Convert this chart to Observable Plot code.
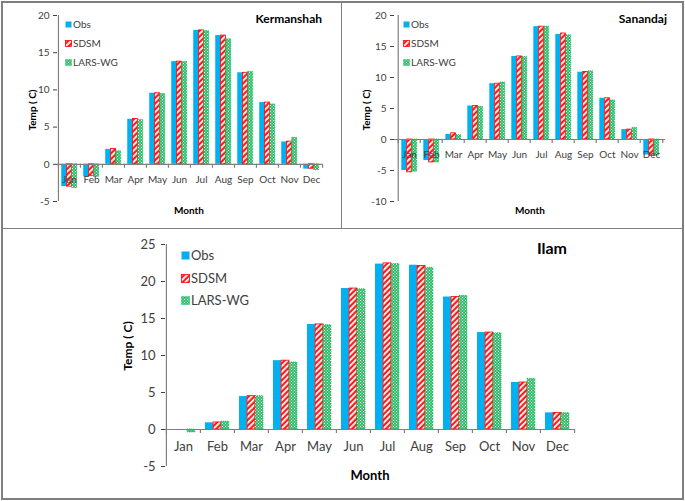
<!DOCTYPE html>
<html><head><meta charset="utf-8">
<script src="https://cdn.jsdelivr.net/npm/d3@7"></script>
<script src="https://cdn.jsdelivr.net/npm/@observablehq/plot@0.6"></script>
<style>
html,body{margin:0;padding:0;background:#fff;}
#page{position:relative;width:685px;height:501px;overflow:hidden;font-family:Lato,"Open Sans",sans-serif;}
.panel{position:absolute;}
.line{position:absolute;background:#7f7f7f;}
.t{position:absolute;white-space:nowrap;color:#000;line-height:1;}
.sw{position:absolute;}
</style></head>
<body>
<svg width="0" height="0" style="position:absolute">
  <defs>
    <pattern id="hatch" width="4" height="4" patternUnits="userSpaceOnUse" patternTransform="rotate(45)">
      <rect width="4" height="4" fill="#ff1a1a"/>
      <rect width="1.8" height="4" fill="#ffffff"/>
    </pattern>
    <pattern id="dots" width="3" height="3" patternUnits="userSpaceOnUse">
      <rect width="3" height="3" fill="#2ebd6b"/>
      <rect x="0" y="0" width="1" height="1" fill="#ffffff"/>
      <rect x="1.5" y="1.5" width="1" height="1" fill="#d9f5e3"/>
    </pattern>
  </defs>
</svg>
<div id="page"></div>
<script>
const months = ["Jan","Feb","Mar","Apr","May","Jun","Jul","Aug","Sep","Oct","Nov","Dec"];
const seriesNames = ["Obs","SDSM","LARS-WG"];

const kerObs  = [-3.0, -1.7, 2.0, 6.05, 9.55, 13.8, 18.0, 17.3, 12.3, 8.3, 3.0, -0.65];
const kerSDSM = [-3.0, -1.6, 2.05, 6.1, 9.55, 13.8, 18.0, 17.3, 12.3, 8.3, 3.05, -0.6];
const kerLARS = [-3.2, -1.7, 1.75, 5.95, 9.45, 13.75, 17.9, 16.8, 12.4, 8.05, 3.55, -0.8];

const sanObs  = [-5.0, -3.4, 0.8, 5.4, 9.0, 13.4, 18.2, 16.95, 10.85, 6.65, 1.6, -2.5];
const sanSDSM = [-5.3, -3.7, 1.0, 5.4, 9.0, 13.4, 18.2, 17.1, 10.9, 6.65, 1.6, -2.6];
const sanLARS = [-5.2, -3.7, 0.7, 5.25, 9.2, 13.3, 18.2, 16.8, 11.0, 6.3, 1.85, -2.6];

const ilamObs  = [0, 0.9, 4.45, 9.3, 14.2, 19.05, 22.35, 22.2, 17.9, 13.1, 6.35, 2.25];
const ilamSDSM = [0, 0.95, 4.5, 9.3, 14.2, 19.05, 22.45, 22.1, 17.9, 13.1, 6.35, 2.25];
const ilamLARS = [-0.4, 1.05, 4.5, 9.05, 14.1, 18.95, 22.35, 21.85, 18.05, 13.0, 6.85, 2.2];

const kerTicks = [-5, 0, 5, 10, 15, 20];
const sanTicks = [-10, -5, 0, 5, 10, 15, 20];
const ilamTicks = [-5, 0, 5, 10, 15, 20, 25];

const styles = [
  {fill: "#00b0f0"},
  {fill: "url(#hatch)", stroke: "#ff0000", strokeWidth: 0.8},
  {fill: "url(#dots)", stroke: "#00b050", strokeWidth: 0.8, strokeDasharray: "1,1"}
];

const page = document.getElementById("page");

function panel(cfg) {
  const {left, top, width, height, mt, mb, ml, mr, domain, ticks, series, fs, labelDy} = cfg;
  const bw = (width - ml - mr) / months.length;
  const gap = 0.147, bar = 0.235;
  const marks = [];
  series.forEach((arr, k) => {
    const data = months.map((m, i) => ({month: m, value: arr[i]}));
    marks.push(Plot.barY(data, {
      x: "month", y: "value",
      insetLeft: bw * (gap + bar * k),
      insetRight: bw - bw * (gap + bar * (k + 1)),
      ...styles[k]
    }));
  });
  // y axis line
  marks.push(Plot.ruleX([months[0]], {dx: -bw / 2, stroke: "#7f7f7f", strokeWidth: 1.2}));
  // zero line (category axis)
  marks.push(Plot.ruleY([0], {stroke: "#7f7f7f", strokeWidth: 1.2}));
  // category tick marks at boundaries
  marks.push(Plot.ruleX(months, {x: d => d, y1: 0, y2: 0, insetBottom: -4, dx: -bw / 2, stroke: "#7f7f7f", strokeWidth: 1.2}));
  marks.push(Plot.ruleX([months[months.length - 1]], {y1: 0, y2: 0, insetBottom: -4, dx: bw / 2, stroke: "#7f7f7f", strokeWidth: 1.2}));
  // month labels just under the zero line
  marks.push(Plot.text(months, {x: d => d, y: 0, dy: labelDy, fill: "#404040", fontSize: fs, textAnchor: "middle"}));
  const chart = Plot.plot({
    width, height,
    marginTop: mt, marginBottom: mb, marginLeft: ml, marginRight: mr,
    style: {fontFamily: "Lato, 'Open Sans', sans-serif", fontSize: fs + "px", color: "#404040", background: "transparent"},
    x: {domain: months, padding: 0, axis: null},
    y: {domain, ticks, tickSize: 4, tickPadding: cfg.tp, label: null, tickFormat: d => String(d)},
    marks
  });
  chart.style.position = "absolute";
  chart.style.left = left + "px";
  chart.style.top = top + "px";
  page.appendChild(chart);
}

panel({left: 0, top: 0, width: 341, height: 228, mt: 15, mb: 27, ml: 57, mr: 19,
  domain: [-5, 20], ticks: kerTicks, series: [kerObs, kerSDSM, kerLARS], fs: 10, labelDy: 15, tp: 4});
panel({left: 341, top: 0, width: 344, height: 228, mt: 15, mb: 27, ml: 53, mr: 20,
  domain: [-10, 20], ticks: sanTicks, series: [sanObs, sanSDSM, sanLARS], fs: 10, labelDy: 15, tp: 4});
panel({left: 0, top: 228, width: 685, height: 273, mt: 16, mb: 35, ml: 165, mr: 110,
  domain: [-5, 25], ticks: ilamTicks, series: [ilamObs, ilamSDSM, ilamLARS], fs: 13, labelDy: 17, tp: 6});

// frame lines
function line(x, y, w, h) {
  const d = document.createElement("div");
  d.className = "line";
  Object.assign(d.style, {left: x + "px", top: y + "px", width: w + "px", height: h + "px"});
  page.appendChild(d);
}
line(1, 1, 683, 1.5);
line(1, 498, 683, 1.5);
line(1, 1, 1.5, 499);
line(682, 1, 1.5, 499);
line(1, 227.5, 683, 1.5);
line(340.5, 1, 1.5, 227);

function text(str, x, y, size, opts = {}) {
  const d = document.createElement("div");
  d.className = "t";
  d.textContent = str;
  d.style.fontSize = size + "px";
  d.style.fontWeight = opts.bold ? "bold" : "normal";
  if (opts.color) d.style.color = opts.color;
  const anchor = opts.anchor || "start";
  const tx = anchor === "middle" ? "-50%" : anchor === "end" ? "-100%" : "0";
  d.style.left = x + "px";
  d.style.top = y + "px";
  d.style.transform = `translate(${tx},-50%)` + (opts.rotate ? ` rotate(${opts.rotate}deg)` : "");
  if (opts.rotate) { d.style.transform = `translate(-50%,-50%) rotate(${opts.rotate}deg)`; }
  page.appendChild(d);
  return d;
}

function swatch(k, x, y, s) {
  const ns = "http://www.w3.org/2000/svg";
  const svg = document.createElementNS(ns, "svg");
  svg.setAttribute("width", s + 1); svg.setAttribute("height", s + 1);
  svg.classList.add("sw");
  svg.style.left = x + "px"; svg.style.top = (y - s / 2) + "px";
  const r = document.createElementNS(ns, "rect");
  r.setAttribute("x", 0.5); r.setAttribute("y", 0.5);
  r.setAttribute("width", s); r.setAttribute("height", s);
  r.setAttribute("fill", styles[k].fill);
  if (styles[k].stroke) { r.setAttribute("stroke", styles[k].stroke); r.setAttribute("stroke-width", 0.8); }
  if (styles[k].strokeDasharray) r.setAttribute("stroke-dasharray", styles[k].strokeDasharray);
  svg.appendChild(r);
  page.appendChild(svg);
}

function legend(x, ys, s, fs, tx) {
  seriesNames.forEach((n, k) => {
    swatch(k, x, ys[k], s);
    text(n, x + tx, ys[k], fs, {color: "#404040"});
  });
}

// Kermanshah
text("Kermanshah", 322, 19, 12, {bold: true, anchor: "end"});
legend(65, [24, 43, 62], 6, 10, 8);
text("Month", 189, 210, 10, {bold: true, anchor: "middle"});
text("Temp ( C)", 32, 110, 10, {bold: true, rotate: -90});

// Sanandaj
text("Sanandaj", 667, 19, 12, {bold: true, anchor: "end"});
legend(403, [24, 43, 62], 6, 10, 8);
text("Month", 530, 210, 10, {bold: true, anchor: "middle"});
text("Temp ( C)", 366, 110, 10, {bold: true, rotate: -90});

// Ilam
text("Ilam", 567, 248, 16, {bold: true, anchor: "end"});
legend(181, [255, 278, 300], 8, 13, 10);
text("Month", 370, 475, 13, {bold: true, anchor: "middle"});
text("Temp ( C)", 128, 346, 12, {bold: true, rotate: -90});
</script>
</body></html>
